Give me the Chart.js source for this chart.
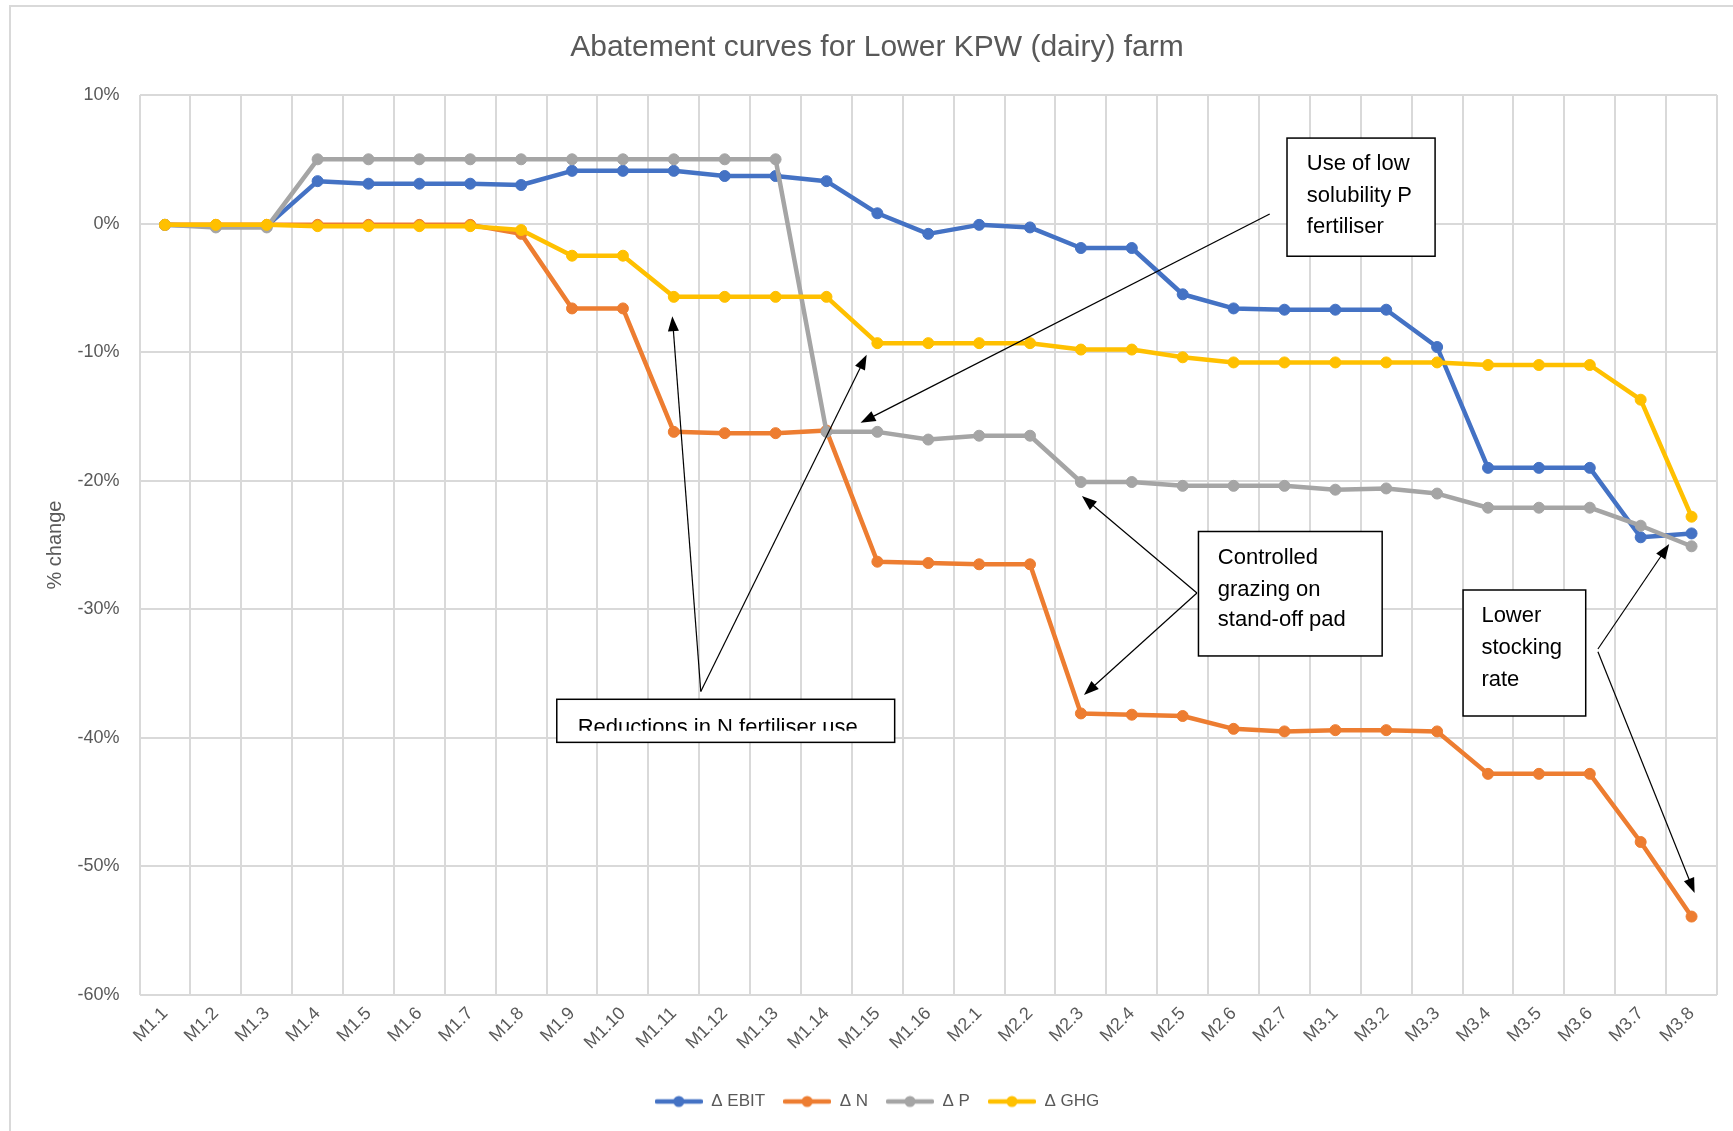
<!DOCTYPE html>
<html>
<head>
<meta charset="utf-8">
<script src="https://cdn.jsdelivr.net/npm/chart.js@4.4.1/dist/chart.umd.min.js"></script>
<style>
html,body{margin:0;padding:0;background:#fff;}
canvas{display:block;}
</style>
</head>
<body>
<canvas id="c" width="1733" height="1131"></canvas>
<script>
const categories = ["M1.1","M1.2","M1.3","M1.4","M1.5","M1.6","M1.7","M1.8","M1.9","M1.10","M1.11","M1.12","M1.13","M1.14","M1.15","M1.16","M2.1","M2.2","M2.3","M2.4","M2.5","M2.6","M2.7","M3.1","M3.2","M3.3","M3.4","M3.5","M3.6","M3.7","M3.8"];
const seriesNames = ["\u0394 EBIT","\u0394 N","\u0394 P","\u0394 GHG"];
const ebit = [-0.1,-0.2,-0.2,3.3,3.1,3.1,3.1,3.0,4.1,4.1,4.1,3.7,3.7,3.3,0.8,-0.8,-0.1,-0.3,-1.9,-1.9,-5.5,-6.6,-6.7,-6.7,-6.7,-9.6,-19.0,-19.0,-19.0,-24.4,-24.1];
const nitrogen = [-0.1,-0.1,-0.1,-0.1,-0.1,-0.1,-0.1,-0.8,-6.6,-6.6,-16.2,-16.3,-16.3,-16.1,-26.3,-26.4,-26.5,-26.5,-38.1,-38.2,-38.3,-39.3,-39.5,-39.4,-39.4,-39.5,-42.8,-42.8,-42.8,-48.1,-53.9];
const phosphorus = [-0.1,-0.3,-0.3,5.0,5.0,5.0,5.0,5.0,5.0,5.0,5.0,5.0,5.0,-16.2,-16.2,-16.8,-16.5,-16.5,-20.1,-20.1,-20.4,-20.4,-20.4,-20.7,-20.6,-21.0,-22.1,-22.1,-22.1,-23.5,-25.1];
const ghg = [-0.1,-0.1,-0.1,-0.2,-0.2,-0.2,-0.2,-0.5,-2.5,-2.5,-5.7,-5.7,-5.7,-5.7,-9.3,-9.3,-9.3,-9.3,-9.8,-9.8,-10.4,-10.8,-10.8,-10.8,-10.8,-10.8,-11.0,-11.0,-11.0,-13.7,-22.8];
const yTickValues = [10,0,-10,-20,-30,-40,-50,-60];
const colors = ["#4472C4","#ED7D31","#A5A5A5","#FFC000"];

// Annotations in data coordinates (category index, % value)
const notes = [
  {box:[22.05,6.65,24.96,-2.54], textX:22.44, lines:[["Use of low",4.64],["solubility P",2.15],["fertiliser",-0.26]],
   arrows:[[21.71,0.75,13.67,-15.5]]},
  {box:[7.70,-37.0,14.34,-40.35], textX:8.11, clipY:-39.45, lines:[["Reductions in N fertiliser use",-39.25]],
   arrows:[[10.53,-36.4,9.97,-7.2],[10.53,-36.4,13.79,-10.2]]},
  {box:[20.31,-23.95,23.92,-33.63], textX:20.69, lines:[["Controlled",-25.99],["grazing on",-28.52],["stand-off pad",-30.85]],
   arrows:[[20.28,-28.73,18.02,-21.19],[20.28,-28.73,18.06,-36.67]]},
  {box:[25.51,-28.5,27.92,-38.3], textX:25.87, lines:[["Lower",-30.52],["stocking",-32.99],["rate",-35.52]],
   arrows:[[28.16,-33.09,29.56,-24.93],[28.16,-33.3,30.06,-52.07]]}
];

const FONT = "'Liberation Sans', Arial, sans-serif";

function makeIcon(color){
  const c = document.createElement('canvas');
  c.width = 48; c.height = 14;
  const g = c.getContext('2d');
  g.strokeStyle = color; g.lineWidth = 4.5; g.lineCap = 'round';
  g.beginPath(); g.moveTo(2,7); g.lineTo(46,7); g.stroke();
  g.fillStyle = color;
  g.beginPath(); g.arc(24,7,5.5,0,Math.PI*2); g.fill();
  return c;
}
const icons = colors.map(makeIcon);

function drawArrow(ctx,x1,y1,x2,y2){
  const a = Math.atan2(y2-y1,x2-x1), L = 15, W = 5.5;
  ctx.beginPath(); ctx.moveTo(x1,y1); ctx.lineTo(x2-L*0.8*Math.cos(a), y2-L*0.8*Math.sin(a)); ctx.stroke();
  ctx.beginPath();
  ctx.moveTo(x2,y2);
  ctx.lineTo(x2-L*Math.cos(a)+W*Math.sin(a), y2-L*Math.sin(a)-W*Math.cos(a));
  ctx.lineTo(x2-L*Math.cos(a)-W*Math.sin(a), y2-L*Math.sin(a)+W*Math.cos(a));
  ctx.closePath(); ctx.fill();
}

const framePlugin = {
  id:'frame',
  beforeDraw(chart){
    const ctx = chart.ctx;
    ctx.save();
    ctx.fillStyle = '#fff'; ctx.fillRect(0,0,chart.width,chart.height);
    ctx.strokeStyle = '#d9d9d9'; ctx.lineWidth = 2;
    ctx.strokeRect(10,6,chart.width+20,chart.height+20);
    ctx.restore();
  }
};

const notePlugin = {
  id:'notes',
  afterDatasetsDraw(chart){
    const ctx = chart.ctx, xs = chart.scales.x, ys = chart.scales.y;
    const X = v => xs.getPixelForValue(v), Y = v => ys.getPixelForValue(v);
    ctx.save();
    notes.forEach(n => {
      const x1 = X(n.box[0]), y1 = Y(n.box[1]), x2 = X(n.box[2]), y2 = Y(n.box[3]);
      ctx.fillStyle = '#fff'; ctx.fillRect(x1,y1,x2-x1,y2-y1);
      ctx.strokeStyle = '#000'; ctx.lineWidth = 1.5; ctx.strokeRect(x1,y1,x2-x1,y2-y1);
      ctx.save();
      if (n.clipY !== undefined){ ctx.beginPath(); ctx.rect(x1,y1,x2-x1,Y(n.clipY)-y1); ctx.clip(); }
      ctx.fillStyle = '#000'; ctx.font = "22px " + FONT; ctx.textBaseline = 'middle'; ctx.textAlign = 'left';
      n.lines.forEach(l => ctx.fillText(l[0], X(n.textX), Y(l[1])));
      ctx.restore();
      ctx.strokeStyle = '#000'; ctx.fillStyle = '#000'; ctx.lineWidth = 1.2;
      n.arrows.forEach(a => drawArrow(ctx, X(a[0]), Y(a[1]), X(a[2]), Y(a[3])));
    });
    ctx.restore();
  }
};

const seriesData = [ebit, nitrogen, phosphorus, ghg];
const datasets = seriesData.map((d,i) => ({
  label: seriesNames[i],
  data: d,
  borderColor: colors[i],
  backgroundColor: colors[i],
  pointBackgroundColor: colors[i],
  pointBorderColor: colors[i],
  borderWidth: 4.5,
  pointRadius: 5.5,
  pointBorderWidth: 1,
  borderJoinStyle: 'round',
  borderCapStyle: 'round',
  tension: 0,
  order: 4 - i
}));

new Chart(document.getElementById('c'), {
  type: 'line',
  data: { labels: categories, datasets },
  plugins: [framePlugin, notePlugin],
  options: {
    responsive: false,
    animation: false,
    layout: { padding: { left: 37, right: 16, top: 0, bottom: 11 } },
    plugins: {
      tooltip: { enabled: false },
      title: {
        display: true,
        text: 'Abatement curves for Lower KPW (dairy) farm',
        color: '#595959',
        font: { family: FONT, size: 30, weight: 'normal' },
        padding: { top: 30, bottom: 29 }
      },
      legend: {
        position: 'bottom',
        labels: {
          color: '#595959',
          font: { family: FONT, size: 17 },
          usePointStyle: true,
          pointStyleWidth: 48,
          boxHeight: 14,
          padding: 18,
          generateLabels: (chart) => chart.data.datasets.map((ds,i) => ({
            text: ds.label, fillStyle: ds.borderColor, strokeStyle: ds.borderColor,
            lineWidth: 0, pointStyle: icons[i], hidden: false, datasetIndex: i, fontColor: '#595959'
          }))
        }
      }
    },
    scales: {
      x: {
        offset: true,
        grid: { offset: true, color: '#d9d9d9', lineWidth: 2, drawTicks: false },
        border: { display: false },
        ticks: { color: '#595959', font: { family: FONT, size: 18 }, minRotation: 45, maxRotation: 45, padding: 8, autoSkip: false },
        afterFit: s => { s.height = 80; }
      },
      y: {
        min: -60, max: 10,
        grid: { color: '#d9d9d9', lineWidth: 2, drawTicks: false },
        border: { display: false },
        afterBuildTicks: s => { s.ticks = yTickValues.map(v => ({ value: v })); },
        ticks: { color: '#595959', font: { family: FONT, size: 18 }, padding: 20, callback: v => v + '%' },
        title: { display: true, text: '% change', color: '#595959', font: { family: FONT, size: 20 }, padding: { top: 6, bottom: 0 } },
        afterFit: s => { s.width = 102.5; }
      }
    }
  }
});
</script>
</body>
</html>
